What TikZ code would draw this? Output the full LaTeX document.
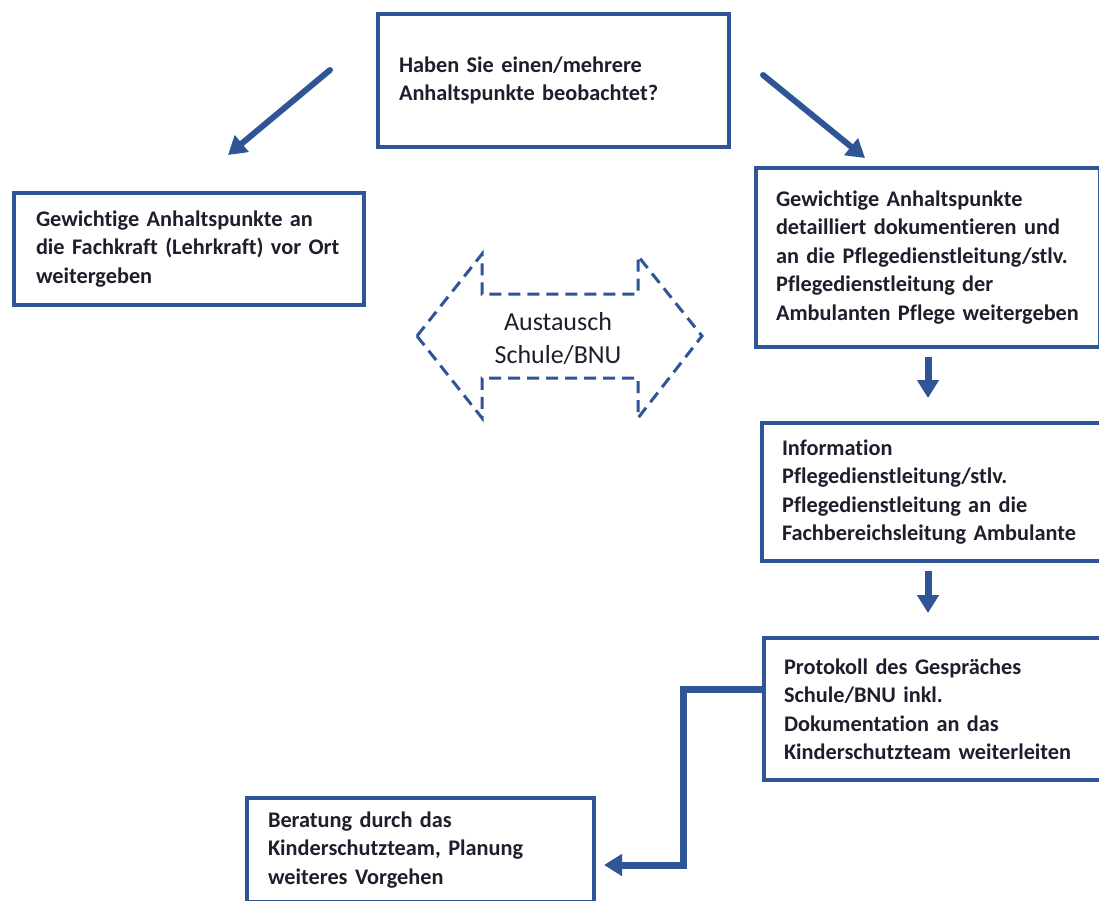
\documentclass[tikz,border=0pt]{standalone}
\usepackage{fontspec}
\setmainfont[Ligatures=NoCommon]{Carlito}
\usetikzlibrary{arrows.meta,shadows}
\definecolor{rahmen}{RGB}{47,85,151}
\definecolor{schrift}{RGB}{30,30,45}
\begin{document}
\begin{tikzpicture}[x=1pt,y=-1pt,
    kasten/.style={draw=rahmen,line width=4pt,fill=white,anchor=west,align=left,text=schrift,
      font=\fontsize{22.3}{28.5}\selectfont\bfseries,inner ysep=0pt,
      drop shadow={opacity=0.2,shadow xshift=1.5pt,shadow yshift=-1.5pt}},
    pfeil/.style={draw=rahmen,line width=6pt,line cap=round,-{Triangle[length=18pt,width=21pt]}}]
  \useasboundingbox (0,0) rectangle (1099,900);
  \clip (0,0) rectangle (1099,900);
  \fill[white] (0,0) rectangle (1099,900);
  \node[kasten,minimum height=133pt,text width=309pt,inner xsep=21pt] (frage) at (376,80.5)
    {Haben Sie einen/mehrere\\Anhaltspunkte beobachtet?};
  \node[kasten,minimum height=112pt,text width=306pt,inner xsep=22pt] (vorort) at (12,249)
    {Gewichtige Anhaltspunkte an\\die Fachkraft (Lehrkraft) vor Ort\\weitergeben};
  \node[kasten,minimum height=179pt,text width=304pt,inner xsep=20pt] (doku) at (754,257.5)
    {Gewichtige Anhaltspunkte\\detailliert dokumentieren und\\an die Pflegedienstleitung/stlv.\\Pflegedienstleitung der\\Ambulanten Pflege weitergeben};
  \node[kasten,minimum height=138pt,text width=320pt,inner xsep=20pt] (info) at (760,492)
    {Information\\Pflegedienstleitung/stlv.\\Pflegedienstleitung an die\\Fachbereichsleitung Ambulante};
  \node[kasten,minimum height=142pt,text width=318pt,inner xsep=20pt] (protokoll) at (762,709)
    {Protokoll des Gespräches\\Schule/BNU inkl.\\Dokumentation an das\\Kinderschutzteam weiterleiten};
  \node[kasten,minimum height=104pt,text width=305pt,inner xsep=21pt] (beratung) at (245,850)
    {Beratung durch das\\Kinderschutzteam, Planung\\weiteres Vorgehen};
  \draw[rahmen,line width=3pt,dash pattern=on 12pt off 7pt,fill=white]
    (417,336) -- (482,254) -- (482,294) -- (638,294) -- (638,256) -- (702,336)
    -- (638,418) -- (638,378) -- (482,378) -- (482,418) -- cycle;
  \node[font=\fontsize{26}{33}\selectfont,text=schrift,align=center] (austausch) at (558,339) {Austausch\\Schule/BNU};
  \coordinate (l0) at (330,70);
  \coordinate (l1) at (228,155);
  \coordinate (r0) at (763,75);
  \coordinate (r1) at (865,158);
  \draw[pfeil] (l0) -- (l1);
  \draw[pfeil] (r0) -- (r1);
  \foreach \a/\b in {doku/info,info/protokoll}
    \draw[pfeil,line width=7pt,line cap=butt,shorten <=8pt,shorten >=23pt] (\a.south -| doku.south) -- (\b.north -| doku.south);
  \draw[pfeil,line width=7pt,line cap=butt] ([yshift=20pt]protokoll.west) -| ([shift={(87pt,-15pt)}]beratung.east) -- ([shift={(8pt,-15pt)}]beratung.east);
\end{tikzpicture}
\end{document}
